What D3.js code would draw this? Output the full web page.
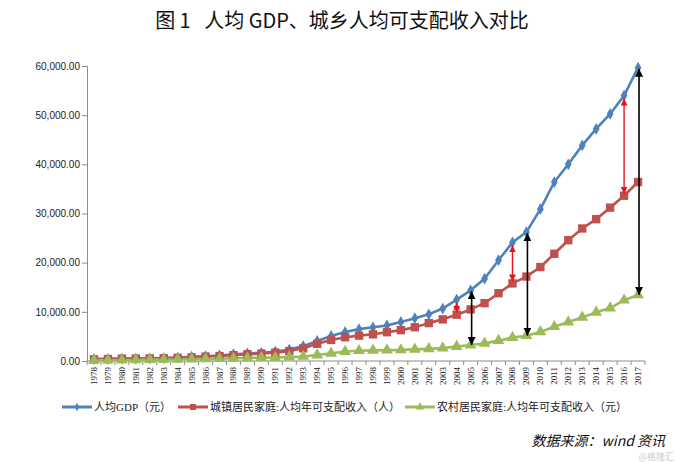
<!DOCTYPE html>
<html><head><meta charset="utf-8">
<script src="https://cdn.jsdelivr.net/npm/d3@7"></script>
<style>
body{margin:0;background:#fff;}
svg{display:block;}
</style></head>
<body>
<svg id="c" width="677" height="462"></svg>
<script>
const years = d3.range(1978, 2018).map(String);
const gdpPerCapita = [385,423,468,497,533,588,702,866,973,1123,1378,1536,1663,1912,2334,3027,4081,5091,5898,6481,6860,7229,7942,8717,9506,10666,12487,14368,16738,20505,24121,26222,30876,36403,40007,43852,47203,50251,53980,59660];
const urbanIncome = [343,405,478,500,535,565,652,739,900,1002,1180,1374,1510,1701,2027,2577,3496,4283,4839,5160,5425,5854,6280,6860,7703,8472,9422,10493,11759,13786,15781,17175,19109,21810,24565,26955,28844,31195,33616,36396];
const ruralIncome = [134,160,191,223,270,310,355,398,424,463,545,602,686,709,784,922,1221,1578,1926,2090,2162,2210,2253,2366,2476,2622,2936,3255,3587,4140,4761,5153,5919,6977,7917,8896,9892,10772,12363,13432];
const yTicks = [0,10000,20000,30000,40000,50000,60000];
const seriesNames = ["人均GDP（元）","城镇居民家庭:人均年可支配收入（人）","农村居民家庭:人均年可支配收入（元）"];
const blackArrowYears = ["2005","2009","2017"]; // rural -> GDP
const redArrowYears = ["2004","2008","2016"];   // urban -> GDP
const titleText = "图 1   人均 GDP、城乡人均可支配收入对比";
const sourceText = "数据来源：wind 资讯";

const svg = d3.select("#c");
const pLeft = 87, pRight = 645, pTop = 66, pBottom = 361;
const x = d3.scaleBand().domain(years).range([pLeft, pRight]);
const y = d3.scaleLinear().domain([0, 60000]).range([pBottom, pTop]);
const cx = d => x(d) + x.bandwidth()/2;

const defs = svg.append("defs");
[["blk","#000"],["red","#e8141b"]].forEach(([id,col])=>{
  defs.append("marker").attr("id","end-"+id).attr("viewBox","0 0 10 10")
    .attr("refX",10).attr("refY",5).attr("markerWidth",5).attr("markerHeight",5)
    .attr("orient","auto").attr("markerUnits","strokeWidth")
    .append("path").attr("d","M0,0L10,5L0,10Z").attr("fill",col);
  defs.append("marker").attr("id","start-"+id).attr("viewBox","0 0 10 10")
    .attr("refX",0).attr("refY",5).attr("markerWidth",5).attr("markerHeight",5)
    .attr("orient","auto").attr("markerUnits","strokeWidth")
    .append("path").attr("d","M10,0L0,5L10,10Z").attr("fill",col);
});

// title
svg.append("text").attr("x",342).attr("y",28).attr("text-anchor","middle")
  .attr("font-family","'Noto Sans CJK SC'").attr("font-size",20).attr("font-weight",400)
  .attr("fill","#111").style("white-space","pre").text(titleText);

// y axis
const yAxis = d3.axisLeft(y).tickValues(yTicks).tickSize(5).tickFormat(d3.format(",.2f"));
const gy = svg.append("g").attr("transform",`translate(${pLeft},0)`).call(yAxis);
gy.select(".domain").attr("stroke","#8c8c8c");
gy.selectAll(".tick line").attr("stroke","#8c8c8c");
gy.selectAll(".tick text").attr("font-family","'Liberation Sans', Arial").attr("font-size",10).attr("fill","#222").attr("x",-7);

// x axis
const gx = svg.append("g").attr("transform",`translate(0,${pBottom})`);
gx.append("line").attr("x1",pLeft).attr("x2",pRight).attr("stroke","#8c8c8c");
gx.selectAll("line.tk").data(years.concat(["end"])).join("line").attr("class","tk")
  .attr("x1",(d,i)=>pLeft+i*x.bandwidth()).attr("x2",(d,i)=>pLeft+i*x.bandwidth())
  .attr("y1",0).attr("y2",4).attr("stroke","#8c8c8c");
gx.selectAll("text.lbl").data(years).join("text").attr("class","lbl")
  .attr("transform",d=>`translate(${cx(d)+3},6) rotate(-90)`)
  .attr("text-anchor","end").attr("font-family","'Liberation Serif', 'Times New Roman'")
  .attr("font-size",9).attr("fill","#222").text(d=>d);

// series
const line = d3.line().x((d,i)=>cx(years[i])).y(d=>y(d));
const series = [
  {vals: gdpPerCapita, color:"#4f81bd", shape:d3.symbolDiamond, size:40, legSize:20},
  {vals: urbanIncome, color:"#c0504d", shape:d3.symbolSquare, size:70, legSize:36},
  {vals: ruralIncome, color:"#9bbb59", shape:d3.symbolTriangle, size:60, legSize:30}
];
series.forEach(s=>{
  svg.append("path").datum(s.vals).attr("d",line).attr("fill","none")
    .attr("stroke",s.color).attr("stroke-width",2.6).attr("stroke-linejoin","round");
});
series.forEach(s=>{
  svg.append("g").selectAll("path").data(s.vals).join("path")
    .attr("d",d3.symbol().type(s.shape).size(s.size)).attr("fill",s.color)
    .attr("transform",(d,i)=>`translate(${cx(years[i])},${y(d)})`);
});

// arrows
blackArrowYears.forEach(yr=>{
  const i = years.indexOf(yr);
  svg.append("line").attr("x1",cx(yr)+1).attr("x2",cx(yr)+1)
    .attr("y1",y(ruralIncome[i])).attr("y2",y(gdpPerCapita[i])+1)
    .attr("stroke","#000").attr("stroke-width",1.6)
    .attr("marker-start","url(#start-blk)").attr("marker-end","url(#end-blk)");
});
redArrowYears.forEach(yr=>{
  const i = years.indexOf(yr);
  svg.append("line").attr("x1",cx(yr)).attr("x2",cx(yr))
    .attr("y1",y(urbanIncome[i])-2).attr("y2",y(gdpPerCapita[i])+3)
    .attr("stroke","#e8141b").attr("stroke-width",1.4)
    .attr("marker-start","url(#start-red)").attr("marker-end","url(#end-red)");
});

// legend
const legX = [62, 178, 405];
const legY = 407;
seriesNames.forEach((name,k)=>{
  const g = svg.append("g");
  g.append("line").attr("x1",legX[k]).attr("x2",legX[k]+30).attr("y1",legY).attr("y2",legY)
    .attr("stroke",series[k].color).attr("stroke-width",3);
  g.append("path").attr("d",d3.symbol().type(series[k].shape).size(series[k].legSize)())
    .attr("fill",series[k].color).attr("transform",`translate(${legX[k]+15},${legY})`);
  g.append("text").attr("x",legX[k]+32).attr("y",legY+4)
    .attr("font-family","'Liberation Serif', 'Noto Sans CJK SC'").attr("font-size",11).attr("fill","#222").text(name);
});

// source
svg.append("text").attr("x",665).attr("y",446).attr("text-anchor","end")
  .attr("font-family","'Noto Sans CJK SC'").attr("font-style","italic").attr("font-size",14)
  .attr("fill","#111").text(sourceText);
svg.append("text").attr("x",674).attr("y",460).attr("text-anchor","end")
  .attr("font-family","'Noto Sans CJK SC'").attr("font-size",9).attr("fill","#cccccc").text("@格隆汇");
</script>
</body></html>
